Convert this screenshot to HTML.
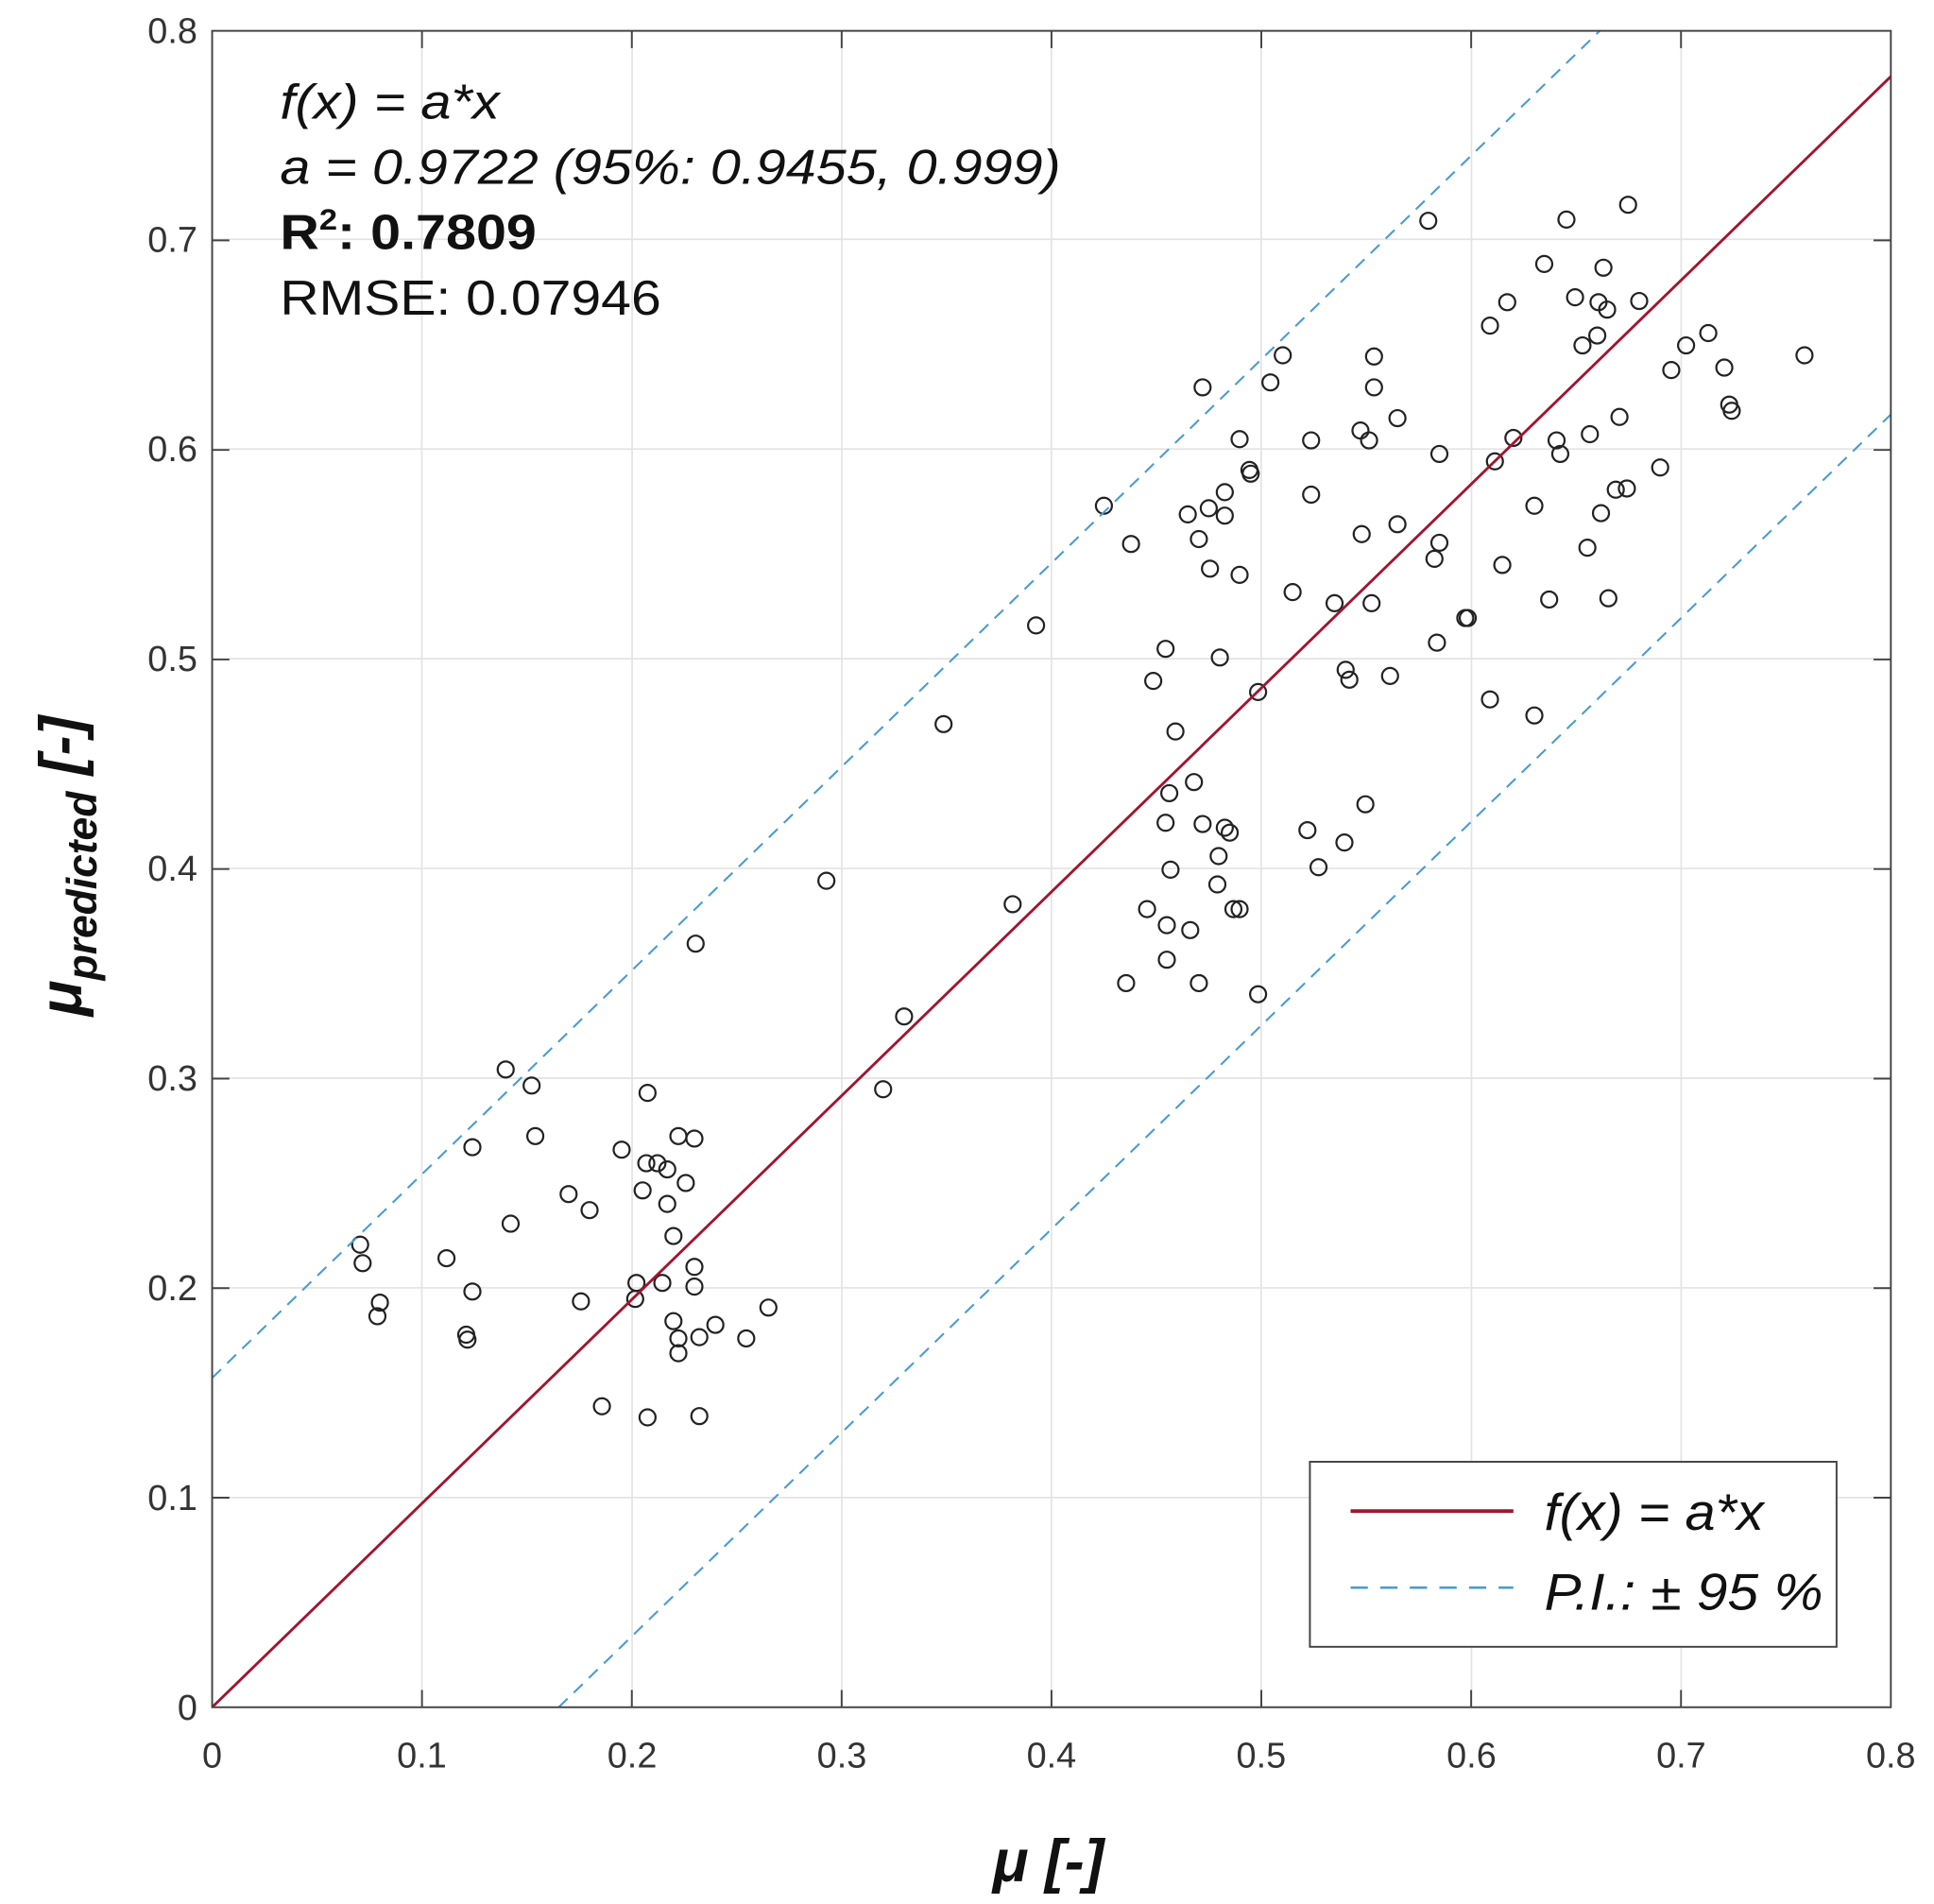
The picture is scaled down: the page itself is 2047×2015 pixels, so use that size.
<!DOCTYPE html>
<html><head><meta charset="utf-8"><style>
html,body{margin:0;padding:0;background:#fff;}
svg{display:block;}
text{font-family:"Liberation Sans",Arial,sans-serif;}
</style></head><body>
<svg id="s" width="2047" height="2015" viewBox="0 0 1568 1543.5" preserveAspectRatio="none" xmlns="http://www.w3.org/2000/svg">
<rect x="0" y="0" width="1568" height="1544" fill="#fff"/>
<g stroke="#e3e3e3" stroke-width="1.3">
<line x1="342" y1="25" x2="342" y2="1384"/><line x1="512.5" y1="25" x2="512.5" y2="1384"/><line x1="682.5" y1="25" x2="682.5" y2="1384"/><line x1="852.5" y1="25" x2="852.5" y2="1384"/><line x1="1022.5" y1="25" x2="1022.5" y2="1384"/><line x1="1193" y1="25" x2="1193" y2="1384"/><line x1="1363" y1="25" x2="1363" y2="1384"/>
<line x1="172" y1="194" x2="1533" y2="194"/><line x1="172" y1="364" x2="1533" y2="364"/><line x1="172" y1="534" x2="1533" y2="534"/><line x1="172" y1="704" x2="1533" y2="704"/><line x1="172" y1="874" x2="1533" y2="874"/><line x1="172" y1="1044" x2="1533" y2="1044"/><line x1="172" y1="1214" x2="1533" y2="1214"/>
</g>
<g id="pts" fill="none" stroke="#222" stroke-width="1.7"></g>
<line x1="172" y1="1384" x2="1533" y2="62" stroke="#a2142f" stroke-width="2.2"/>
<g stroke="#4a9bd0" stroke-width="1.6" stroke-dasharray="10,7">
<line x1="172" y1="1117" x2="1297" y2="25"/>
<line x1="453" y1="1384" x2="1533" y2="336"/>
</g>
<g stroke="#444" stroke-width="1.5" fill="none">
<rect x="172" y="25" width="1361" height="1359"/>
</g>
<g stroke="#444" stroke-width="1.5" id="ticks"></g>
<g font-size="29" fill="#333" text-anchor="end">
<text x="160" y="35">0.8</text><text x="160" y="204">0.7</text><text x="160" y="374">0.6</text><text x="160" y="544">0.5</text><text x="160" y="714">0.4</text><text x="160" y="884">0.3</text><text x="160" y="1054">0.2</text><text x="160" y="1224">0.1</text><text x="160" y="1394">0</text>
</g>
<g font-size="29" fill="#333" text-anchor="middle">
<text x="172" y="1433">0</text><text x="342" y="1433">0.1</text><text x="512.5" y="1433">0.2</text><text x="682.5" y="1433">0.3</text><text x="852.5" y="1433">0.4</text><text x="1022.5" y="1433">0.5</text><text x="1193" y="1433">0.6</text><text x="1363" y="1433">0.7</text><text x="1533" y="1433">0.8</text>
</g>
<g font-size="40" fill="#111">
<text x="227" y="96" font-style="italic" textLength="178" lengthAdjust="spacingAndGlyphs">f(x) = a*x</text>
<text x="227" y="149" font-style="italic" textLength="633" lengthAdjust="spacingAndGlyphs">a = 0.9722 (95%: 0.9455, 0.999)</text>
<text x="227" y="202" font-weight="bold" textLength="208" lengthAdjust="spacingAndGlyphs">R<tspan font-size="24" dy="-16">2</tspan><tspan dy="16">: 0.7809</tspan></text>
<text x="227" y="255" textLength="309" lengthAdjust="spacingAndGlyphs">RMSE: 0.07946</text>
</g>
<rect x="1062" y="1185" width="427" height="150" fill="#fff" stroke="#444" stroke-width="1.5"/>
<line x1="1095" y1="1225" x2="1227" y2="1225" stroke="#a2142f" stroke-width="3"/>
<line x1="1095" y1="1287" x2="1227" y2="1287" stroke="#4a9bd0" stroke-width="2" stroke-dasharray="14,10"/>
<g font-size="42" fill="#111" font-style="italic">
<text x="1252" y="1240" textLength="178" lengthAdjust="spacingAndGlyphs">f(x) = a*x</text>
<text x="1252" y="1305" textLength="226" lengthAdjust="spacingAndGlyphs">P.I.: ± 95 %</text>
</g>
<text x="850" y="1525" font-size="48" font-weight="bold" font-style="italic" text-anchor="middle" fill="#111">μ [-]</text>
<text transform="translate(66,702) rotate(-90)" font-size="48" font-weight="bold" font-style="italic" text-anchor="middle" fill="#111">μ<tspan font-size="34" dy="12">predicted</tspan><tspan dy="-12"> [-]</tspan></text>
</svg>
<script>
var P=[[292,1009],[294,1024],[308,1056],[306,1067],[362,1020],[383,930],[383,1047],[378,1082],[379,1086],[410,867],[431,880],[434,921],[414,992],[461,968],[478,981],[471,1055],[488,1140],[504,932],[525,886],[524,943],[533,943],[521,965],[541,948],[550,921],[563,923],[556,959],[541,976],[546,1002],[516,1040],[515,1053],[537,1040],[563,1027],[563,1043],[546,1071],[550,1085],[550,1097],[567,1084],[580,1074],[605,1085],[623,1060],[525,1149],[567,1148],[564,765],[670,714],[716,883],[733,824],[765,587],[821,733],[840,507],[895,410],[917,441],[913,797],[930,737],[935,552],[945,526],[948,643],[953,593],[945,667],[949,705],[946,750],[946,778],[965,754],[968,634],[972,797],[975,668],[963,417],[972,437],[975,314],[981,461],[980,412],[993,399],[989,533],[993,418],[993,671],[988,694],[987,717],[997,675],[1000,737],[1005,737],[1005,466],[1005,356],[1013,381],[1014,384],[1020,561],[1020,806],[1030,310],[1040,288],[1048,480],[1060,673],[1063,357],[1063,401],[1069,703],[1082,489],[1091,543],[1090,683],[1094,551],[1103,349],[1104,433],[1110,357],[1112,489],[1114,289],[1114,314],[1107,652],[1127,548],[1133,425],[1133,339],[1158,179],[1163,453],[1165,521],[1167,440],[1167,368],[1188,501],[1190,501],[1208,264],[1208,567],[1212,374],[1218,458],[1222,245],[1227,355],[1244,410],[1244,580],[1252,214],[1256,486],[1262,357],[1265,368],[1270,178],[1277,241],[1283,280],[1287,444],[1289,352],[1295,272],[1296,245],[1298,416],[1300,217],[1303,251],[1304,485],[1310,397],[1313,338],[1319,396],[1320,166],[1329,244],[1346,379],[1355,300],[1367,280],[1385,270],[1398,298],[1402,328],[1404,333],[1463,288]];
var NS="http://www.w3.org/2000/svg",g=document.getElementById("pts");
P.forEach(function(p){var c=document.createElementNS(NS,"circle");c.setAttribute("cx",p[0]);c.setAttribute("cy",p[1]);c.setAttribute("r",6.5);g.appendChild(c);});
var t=document.getElementById("ticks");
function L(a,b,c,d){var l=document.createElementNS(NS,"line");l.setAttribute("x1",a);l.setAttribute("y1",b);l.setAttribute("x2",c);l.setAttribute("y2",d);t.appendChild(l);}
for(var i=1;i<8;i++){var x=172+i*170.125,y=1384-i*169.875;L(x,1384,x,1370);L(x,25,x,39);L(172,y,186,y);L(1533,y,1519,y);}
</script>
</body></html>
